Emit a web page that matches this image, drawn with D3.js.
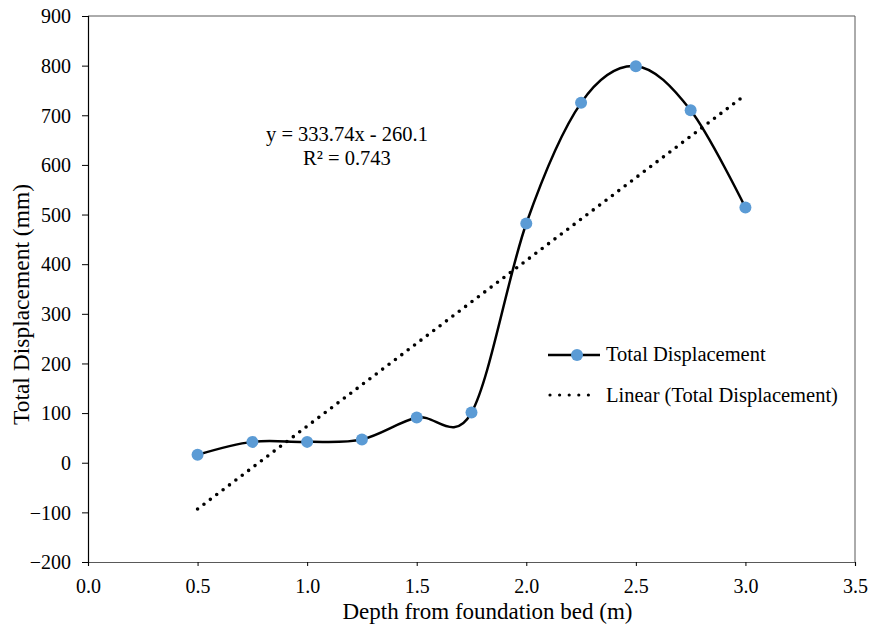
<!DOCTYPE html>
<html><head><meta charset="utf-8">
<script src="https://cdn.jsdelivr.net/npm/d3@7"></script>
<style>body{margin:0;background:#fff}svg{display:block}text{font-family:"Liberation Serif","Times New Roman",serif;fill:#000}</style>
</head><body><svg id="c" width="869" height="627"></svg>
<script>
const depth = [0.5, 0.75, 1.0, 1.25, 1.5, 1.75, 2.0, 2.25, 2.5, 2.75, 3.0];
const displacement = [16, 42, 42, 47, 91, 101, 482, 725, 799, 710, 514];
const xTicks = [0, 0.5, 1.0, 1.5, 2.0, 2.5, 3.0, 3.5];
const yTicks = [-200, -100, 0, 100, 200, 300, 400, 500, 600, 700, 800, 900];
const slope = 333.74, intercept = -260.1;
const eqLabel = "y = 333.74x - 260.1";
const r2Label = "R² = 0.743";
const seriesName = "Total Displacement";
const trendName = "Linear (Total Displacement)";

const svg = d3.select("#c");
const L = 88, R = 855, T = 16, B = 562;
const x = d3.scaleLinear().domain([0, 3.5]).range([L, R]);
const y = d3.scaleLinear().domain([-200, 900]).range([B, T]);

// plot border (top/right)
svg.append("line").attr("x1", L).attr("x2", R).attr("y1", T).attr("y2", T).attr("stroke", "#595959").attr("stroke-width", 1);
svg.append("line").attr("x1", R).attr("x2", R).attr("y1", T).attr("y2", B).attr("stroke", "#595959").attr("stroke-width", 1);

const xAxis = svg.append("g").attr("transform", `translate(0,${B})`)
  .call(d3.axisBottom(x).tickValues(xTicks).tickFormat(d3.format(".1f")).tickSize(4).tickPadding(13));
const yAxis = svg.append("g").attr("transform", `translate(${L},0)`)
  .call(d3.axisLeft(y).tickValues(yTicks).tickFormat(d3.format("d")).tickSize(6).tickPadding(11));
[xAxis, yAxis].forEach(g => {
  g.select(".domain").attr("stroke", "#000").attr("stroke-width", 1.2);
  g.selectAll(".tick line").attr("stroke", "#000");
  g.selectAll(".tick text").style("font-family", '"Liberation Serif",serif').style("font-size", "20px").attr("fill", "#000");
});
xAxis.select(".domain").attr("stroke", "#595959");
yAxis.selectAll(".tick text").attr("dy", "0.34em");

// trendline
const tl = [depth[0], depth[depth.length - 1]];
svg.append("line")
  .attr("x1", x(tl[0])).attr("y1", y(slope * tl[0] + intercept))
  .attr("x2", x(tl[1])).attr("y2", y(slope * tl[1] + intercept))
  .attr("stroke", "#000").attr("stroke-width", 3.6).attr("stroke-dasharray", "0 8").attr("stroke-linecap", "round");

// smooth series
const pts = depth.map((d, i) => [d, displacement[i]]);
svg.append("path").datum(pts)
  .attr("d", d3.line().x(d => x(d[0])).y(d => y(d[1])).curve(d3.curveCatmullRom.alpha(0)))
  .attr("fill", "none").attr("stroke", "#000").attr("stroke-width", 2.5);
svg.selectAll("circle.pt").data(pts).join("circle").attr("class", "pt")
  .attr("cx", d => x(d[0])).attr("cy", d => y(d[1])).attr("r", 6).attr("fill", "#5B9BD5");

// equation
svg.append("text").attr("x", 347).attr("y", 141).attr("text-anchor", "middle").style("font-size", "20.5px").text(eqLabel);
svg.append("text").attr("x", 347).attr("y", 165).attr("text-anchor", "middle").style("font-size", "20.5px").text(r2Label);

// legend
const lg = svg.append("g");
lg.append("line").attr("x1", 548).attr("x2", 600).attr("y1", 355).attr("y2", 355).attr("stroke", "#000").attr("stroke-width", 2.5);
lg.append("circle").attr("cx", 577).attr("cy", 355).attr("r", 6).attr("fill", "#5B9BD5");
lg.append("text").attr("x", 606).attr("y", 361).style("font-size", "20.5px").text(seriesName);
lg.append("line").attr("x1", 550).attr("x2", 598).attr("y1", 395).attr("y2", 395).attr("stroke", "#000").attr("stroke-width", 3.2).attr("stroke-dasharray", "0 9.6").attr("stroke-linecap", "round");
lg.append("text").attr("x", 606).attr("y", 402).style("font-size", "20.5px").text(trendName);

// axis titles
svg.append("text").attr("x", 487.5).attr("y", 619).attr("text-anchor", "middle").style("font-size", "23px").text("Depth from foundation bed (m)");
svg.append("text").attr("transform", "translate(29,304.5) rotate(-90)").attr("text-anchor", "middle").style("font-size", "23.5px").text("Total Displacement (mm)");
</script></body></html>
